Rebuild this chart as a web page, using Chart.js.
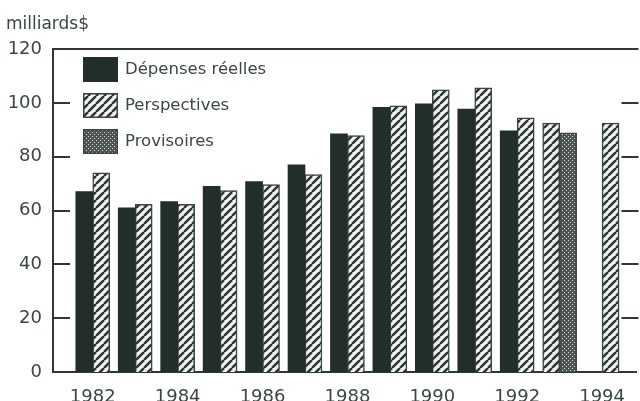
<!DOCTYPE html>
<html><head><meta charset="utf-8">
<script src="https://cdn.jsdelivr.net/npm/chart.js@4.4.1/dist/chart.umd.min.js"></script>
<style>html,body{margin:0;padding:0;background:#fff;}#wrap{width:640px;height:401px;position:relative;}</style>
</head><body><div id="wrap"><canvas id="c"></canvas></div>
<script>
// ---- data ----
const years = [1982,1983,1984,1985,1986,1987,1988,1989,1990,1991,1992,1993,1994];
const depensesReelles = [67,61,63.3,69,70.7,77,88.5,98.3,99.6,97.7,89.6,null,null];
const perspectives    = [74,62.3,62.3,67.4,69.6,73.3,87.8,98.9,104.8,105.6,94.4,92.5,92.5];
const provisoires     = [null,null,null,null,null,null,null,null,null,null,null,88.9,null];
const seriesLabels = ['Dépenses réelles','Perspectives','Provisoires'];
const xTickYears = [1982,1984,1986,1988,1990,1992,1994];
const yTickValues = [0,20,40,60,80,100,120];
const unitLabel = 'milliards$';

// ---- styles ----
const INK = '#2f3836';
const TEXT = '#3b4745';
const DARK = '#222e2b';
const SLOT = 0.2; // half-gap between paired bars, in years

function hatchPattern(){
  const s = 8, c = document.createElement('canvas'); c.width = s; c.height = s;
  const g = c.getContext('2d');
  g.fillStyle = '#eef1ee'; g.fillRect(0,0,s,s);
  g.strokeStyle = '#2a3331'; g.lineWidth = 2.4;
  for (const o of [-s, 0, s]) { g.beginPath(); g.moveTo(o, s); g.lineTo(o + s, 0); g.stroke(); }
  return g.createPattern(c, 'repeat');
}
function dotPattern(){
  const s = 4, c = document.createElement('canvas'); c.width = s; c.height = s;
  const g = c.getContext('2d');
  g.fillStyle = '#4c5553'; g.fillRect(0,0,s,s);
  g.fillStyle = '#d8dcda'; g.fillRect(0,0,1,1); g.fillRect(2,2,1,1);
  return g.createPattern(c, 'repeat');
}
const HATCH = hatchPattern(), DOTS = dotPattern();

function pts(vals, offsetFn){
  return years.map((y,i) => vals[i] == null ? null : {x: y + offsetFn(i), y: vals[i]}).filter(p => p);
}

const data = {
  datasets: [
    { label: seriesLabels[0], data: pts(depensesReelles, () => -SLOT),
      backgroundColor: DARK, borderColor: DARK, borderWidth: 0 },
    { label: seriesLabels[1], data: pts(perspectives, i => provisoires[i] != null ? -SLOT : SLOT),
      backgroundColor: HATCH, borderColor: '#3a4341', borderWidth: 1.5 },
    { label: seriesLabels[2], data: pts(provisoires, () => SLOT),
      backgroundColor: DOTS, borderColor: '#3a4341', borderWidth: 1.5 }
  ]
};

const framePlugin = {
  id: 'frame',
  afterDraw(chart){
    const {ctx, chartArea: a, scales: {y}} = chart;
    ctx.save();
    ctx.strokeStyle = INK; ctx.lineWidth = 2;
    ctx.beginPath(); ctx.moveTo(a.left - 1, a.top); ctx.lineTo(a.right + 2, a.top); ctx.stroke();
    for (const v of yTickValues) {
      if (v === y.min || v === y.max) continue;
      const py = Math.round(y.getPixelForValue(v));
      ctx.beginPath(); ctx.moveTo(a.left, py); ctx.lineTo(a.left + 17, py); ctx.stroke();
      ctx.beginPath(); ctx.moveTo(a.right - 15, py); ctx.lineTo(a.right + 2, py); ctx.stroke();
    }
    // unit label
    ctx.fillStyle = TEXT; ctx.font = '17px "DejaVu Sans"';
    ctx.textBaseline = 'alphabetic'; ctx.textAlign = 'left';
    ctx.fillText(unitLabel, 6, 29);
    // legend
    ctx.font = '16.5px "DejaVu Sans"'; ctx.textBaseline = 'middle';
    chart.data.datasets.forEach((ds, i) => {
      const bx = a.left + 30, by = a.top + 8 + i * 36;
      ctx.fillStyle = ds.backgroundColor; ctx.fillRect(bx, by, 35, 25);
      if (ds.borderWidth) { ctx.strokeStyle = ds.borderColor; ctx.lineWidth = 1.5; ctx.strokeRect(bx + 0.75, by + 0.75, 33.5, 23.5); }
      ctx.fillStyle = TEXT; ctx.fillText(ds.label, bx + 42, by + 13);
    });
    ctx.restore();
  }
};

new Chart(document.getElementById('c'), {
  type: 'bar',
  data,
  plugins: [framePlugin],
  options: {
    responsive: true, maintainAspectRatio: false, animation: false,
    layout: { padding: { top: 49, right: 0, left: 0, bottom: 0 } },
    datasets: { bar: { grouped: false, barThickness: 17 } },
    plugins: { legend: { display: false }, tooltip: { enabled: false } },
    scales: {
      x: {
        type: 'linear', min: 1981.063, max: 1994.81, offset: false,
        afterBuildTicks: s => { s.ticks = xTickYears.map(v => ({value: v})); },
        afterFit: s => { s.height = 29; },
        grid: { display: false, drawTicks: false, offset: false },
        border: { display: true, color: INK, width: 2 },
        ticks: { padding: 15, color: TEXT, font: { family: 'DejaVu Sans', size: 18 }, callback: v => String(v), maxRotation: 0, autoSkip: false }
      },
      y: {
        min: 0, max: 120,
        afterBuildTicks: s => { s.ticks = yTickValues.map(v => ({value: v})); },
        afterFit: s => { s.width = 53; },
        grid: { display: false, drawTicks: false },
        border: { display: true, color: INK, width: 2 },
        ticks: { padding: 11, color: TEXT, font: { family: 'DejaVu Sans', size: 18 } }
      }
    }
  }
});
</script></body></html>
